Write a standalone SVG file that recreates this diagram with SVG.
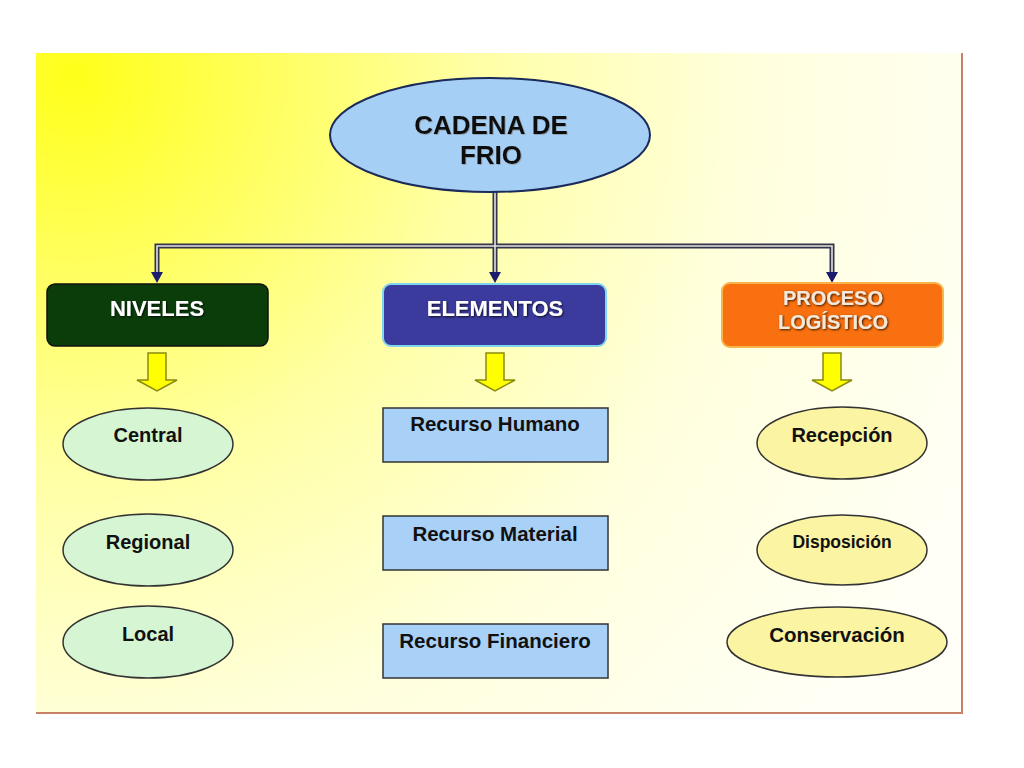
<svg xmlns="http://www.w3.org/2000/svg" width="1024" height="768" viewBox="0 0 1024 768">
<defs>
<radialGradient id="bg" gradientUnits="userSpaceOnUse" cx="75" cy="75" r="1000">
<stop offset="0" stop-color="#ffff1a"/>
<stop offset="0.15" stop-color="#ffff50"/>
<stop offset="0.4" stop-color="#ffffa6"/>
<stop offset="0.68" stop-color="#ffffde"/>
<stop offset="1" stop-color="#fffff8"/>
</radialGradient>
<marker id="ah" markerUnits="userSpaceOnUse" markerWidth="12" markerHeight="12" refX="0" refY="6" orient="auto" viewBox="0 0 12 12">
<path d="M0,0 L11,6 L0,12 Z" fill="#1c1c6e"/>
</marker>
<filter id="sh" x="-10%" y="-30%" width="120%" height="160%">
<feDropShadow dx="1" dy="1" stdDeviation="0.8" flood-color="#000" flood-opacity="0.8"/>
</filter>
<filter id="shl" x="-10%" y="-30%" width="120%" height="160%">
<feDropShadow dx="0.8" dy="0.8" stdDeviation="0.6" flood-color="#777" flood-opacity="0.6"/>
</filter>
</defs>
<style>
text{font-family:"Liberation Sans",Arial,sans-serif;font-weight:bold;text-anchor:middle}
.dark{fill:#111}
.light{fill:#fff}
.conn-outer{fill:none;stroke:#34344a;stroke-width:5}
.conn-inner{fill:none;stroke:#e2e2e2;stroke-width:1.6}
.down{fill:#ffff00;stroke:#8a8a10;stroke-width:1.5}
.green{fill:#d6f5d2;stroke:#333;stroke-width:1.5}
.blue{fill:#a9d1f7;stroke:#333;stroke-width:1.5}
.yel{fill:#fbf4a2;stroke:#333;stroke-width:1.5}
</style>
<rect x="36" y="53" width="926" height="660" fill="url(#bg)"/>
<line x1="962" y1="53" x2="962" y2="714" stroke="#c8806a" stroke-width="2"/>
<line x1="36" y1="713" x2="963" y2="713" stroke="#c8806a" stroke-width="2"/>

<g id="connectors">
<path class="conn-outer" d="M495,192 V272" marker-end="url(#ah)"/>
<path class="conn-outer" d="M495,246 H157 V272" marker-end="url(#ah)"/>
<path class="conn-outer" d="M495,246 H832 V272" marker-end="url(#ah)"/>
<path class="conn-inner" d="M495,192 V272"/>
<path class="conn-inner" d="M495,246 H157 V272"/>
<path class="conn-inner" d="M495,246 H832 V272"/>
<path class="down" d="M148,353 H166 V380 H177 L157,391 L137,380 H148 Z"/>
<path class="down" d="M486,353 H504 V380 H515 L495,391 L475,380 H486 Z"/>
<path class="down" d="M823,353 H841 V380 H852 L832,391 L812,380 H823 Z"/>
</g>

<g id="cadena">
<ellipse cx="490" cy="135" rx="160" ry="57" fill="#a6cff5" stroke="#1a2a5a" stroke-width="2"/>
<text x="491" y="134" font-size="26" class="dark" filter="url(#shl)">CADENA DE</text>
<text x="491" y="164" font-size="26" class="dark" filter="url(#shl)">FRIO</text>
</g>

<g id="niveles">
<rect x="47" y="284" width="221" height="62" rx="8" fill="#0b3d0b" stroke="#111" stroke-width="1.5"/>
<text x="157" y="316" font-size="22" class="light" filter="url(#sh)">NIVELES</text>
</g>
<g id="elementos">
<rect x="383" y="284" width="223" height="62" rx="8" fill="#3b3b9e" stroke="#7fd6ee" stroke-width="2"/>
<text x="495" y="316" font-size="22" class="light" filter="url(#sh)">ELEMENTOS</text>
</g>
<g id="proceso">
<rect x="722" y="283" width="221" height="64" rx="8" fill="#f8700f" stroke="#f6b44a" stroke-width="2"/>
<text x="833" y="305" font-size="20" fill="#f3e9dc" font-weight="normal" filter="url(#sh)">PROCESO</text>
<text x="833" y="329" font-size="20" fill="#f3e9dc" font-weight="normal" filter="url(#sh)">LOGÍSTICO</text>
</g>

<g id="central">
<ellipse class="green" cx="148" cy="444" rx="85" ry="36"/>
<text x="148" y="442" font-size="20" class="dark">Central</text>
</g>
<g id="regional">
<ellipse class="green" cx="148" cy="550" rx="85" ry="36"/>
<text x="148" y="549" font-size="20" class="dark">Regional</text>
</g>
<g id="local">
<ellipse class="green" cx="148" cy="642" rx="85" ry="36"/>
<text x="148" y="641" font-size="20" class="dark">Local</text>
</g>

<g id="humano">
<rect class="blue" x="383" y="408" width="225" height="54"/>
<text x="495" y="431" font-size="20.5" class="dark">Recurso Humano</text>
</g>
<g id="material">
<rect class="blue" x="383" y="516" width="225" height="54"/>
<text x="495" y="541" font-size="20.5" class="dark">Recurso Material</text>
</g>
<g id="financiero">
<rect class="blue" x="383" y="624" width="225" height="54"/>
<text x="495" y="648" font-size="20.5" class="dark">Recurso Financiero</text>
</g>

<g id="recepcion">
<ellipse class="yel" cx="842" cy="443" rx="85" ry="36"/>
<text x="842" y="442" font-size="20" class="dark">Recepción</text>
</g>
<g id="disposicion">
<ellipse class="yel" cx="842" cy="550" rx="85" ry="35"/>
<text x="842" y="548" font-size="17.5" class="dark">Disposición</text>
</g>
<g id="conservacion">
<ellipse class="yel" cx="837" cy="642" rx="110" ry="35"/>
<text x="837" y="642" font-size="20.5" class="dark">Conservación</text>
</g>
</svg>
